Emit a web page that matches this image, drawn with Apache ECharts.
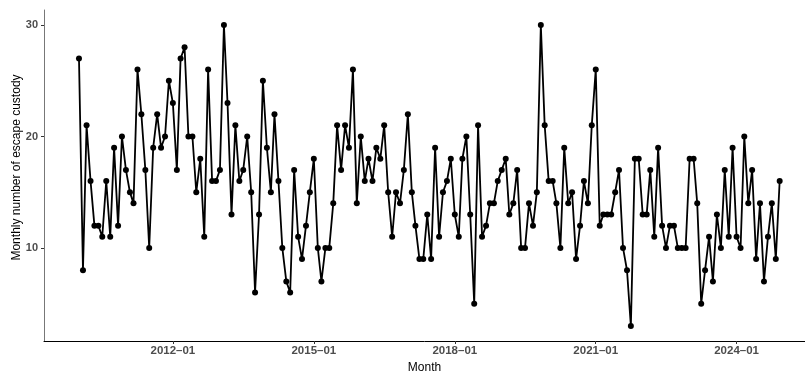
<!DOCTYPE html>
<html>
<head>
<meta charset="utf-8">
<script src="https://cdn.jsdelivr.net/npm/echarts@6/dist/echarts.min.js"></script>
<style>
  html, body { margin: 0; padding: 0; background: #fff; }
  #chart { width: 805px; height: 371px; }
</style>
</head>
<body>
<div id="chart"></div>
<script>
// monthly counts, Jan..Dec per year
const y2010 = [27, 8, 21, 16, 12, 12, 11, 16, 11, 19, 12, 20];
const y2011 = [17, 15, 14, 26, 22, 17, 10, 19, 22, 19, 20, 25];
const y2012 = [23, 17, 27, 28, 20, 20, 15, 18, 11, 26, 16, 16];
const y2013 = [17, 30, 23, 13, 21, 16, 17, 20, 15, 6, 13, 25];
const y2014 = [19, 15, 22, 16, 10, 7, 6, 17, 11, 9, 12, 15];
const y2015 = [18, 10, 7, 10, 10, 14, 21, 17, 21, 19, 26, 14];
const y2016 = [20, 16, 18, 16, 19, 18, 21, 15, 11, 15, 14, 17];
const y2017 = [22, 15, 12, 9, 9, 13, 9, 19, 11, 15, 16, 18];
const y2018 = [13, 11, 18, 20, 13, 5, 21, 11, 12, 14, 14, 16];
const y2019 = [17, 18, 13, 14, 17, 10, 10, 14, 12, 15, 30, 21];
const y2020 = [16, 16, 14, 10, 19, 14, 15, 9, 12, 16, 14, 21];
const y2021 = [26, 12, 13, 13, 13, 15, 17, 10, 8, 3, 18, 18];
const y2022 = [13, 13, 17, 11, 19, 12, 10, 12, 12, 10, 10, 10];
const y2023 = [18, 18, 14, 5, 8, 11, 7, 13, 10, 17, 11, 19];
const y2024 = [11, 10, 20, 14, 17, 9, 14, 7, 11, 14, 9, 16];

const years = [2010, 2011, 2012, 2013, 2014, 2015, 2016, 2017, 2018, 2019, 2020, 2021, 2022, 2023, 2024];
const yearValues = [y2010, y2011, y2012, y2013, y2014, y2015, y2016, y2017, y2018, y2019, y2020, y2021, y2022, y2023, y2024];

const xTickYears = [2012, 2015, 2018, 2021, 2024];
const yTicks = [10, 20, 30];

const seriesData = [];
years.forEach((yr, i) => {
  yearValues[i].forEach((v, m) => seriesData.push([Date.UTC(yr, m, 1), v]));
});
const xTicks = xTickYears.map(yr => Date.UTC(yr, 0, 1));

const labelColor = '#4d4d4d';
const font = 'Liberation Sans';
const myChart = echarts.init(document.getElementById('chart'));
myChart.setOption({
  animation: false,
  backgroundColor: '#fff',
  grid: { left: 44, right: 0, top: 10, bottom: 30, outerBoundsMode: 'none' },
  xAxis: {
    type: 'value',
    min: Date.UTC(2009, 3, 4),
    max: Date.UTC(2025, 5, 16),
    name: 'Month',
    nameLocation: 'middle',
    nameGap: 17,
    nameTextStyle: { color: '#000', fontSize: 12, fontFamily: font },
    axisLine: { lineStyle: { color: '#000', width: 1 } },
    axisTick: { show: true, customValues: xTicks, length: 3, lineStyle: { color: '#333' } },
    axisLabel: {
      customValues: xTicks,
      color: labelColor,
      fontWeight: 'bold',
      fontSize: 11.5,
      fontFamily: font,
      margin: 4,
      formatter: v => {
        const d = new Date(v);
        return d.getUTCFullYear() + '\u2013' + String(d.getUTCMonth() + 1).padStart(2, '0');
      }
    },
    splitLine: { show: false }
  },
  yAxis: {
    type: 'value',
    min: 1.65,
    max: 31.35,
    name: 'Monthly number of escape custody',
    nameLocation: 'middle',
    nameRotate: 90,
    nameGap: 21,
    nameMoveOverlap: false,
    nameTextStyle: { color: '#000', fontSize: 12, fontFamily: font, padding: [0, 0, 0, 16] },
    axisLine: { show: true, lineStyle: { color: '#777', width: 1 } },
    axisTick: { show: true, customValues: yTicks, length: 3, lineStyle: { color: '#333' } },
    axisLabel: {
      customValues: yTicks,
      color: labelColor,
      fontWeight: 'bold',
      fontSize: 11,
      fontFamily: font,
      margin: 6
    },
    splitLine: { show: false }
  },
  series: [{
    type: 'line',
    data: seriesData,
    symbol: 'circle',
    symbolSize: 6,
    lineStyle: { color: '#000', width: 1.8 },
    itemStyle: { color: '#000' }
  }]
});
window.addEventListener('resize', () => myChart.resize());
</script>
</body>
</html>
